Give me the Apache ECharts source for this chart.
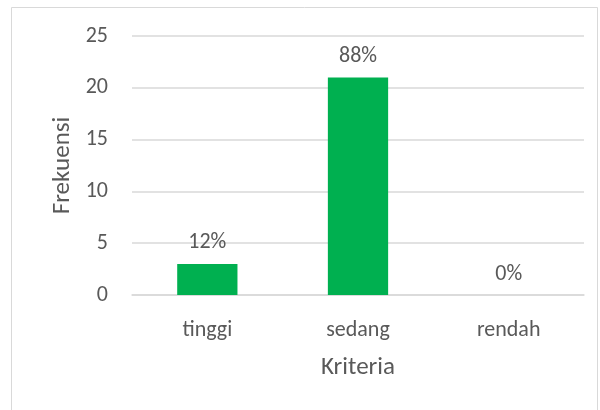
<!DOCTYPE html>
<html>
<head>
<meta charset="utf-8">
<script src="https://cdn.jsdelivr.net/npm/echarts@6/dist/echarts.min.js"></script>
<style>
    html, body { margin: 0; padding: 0; background: #fff; }
    #divChart { width: 600px; height: 410px; }
</style>
</head>
<body>
<div id="divChart"></div>
<script>
// data
var categories = ['tinggi', 'sedang', 'rendah'];
var frekuensi = [3, 21, 0];
var persen = ['12%', '88%', '0%'];
var yTicks = [0, 5, 10, 15, 20, 25];

var textColor = '#595959';
var gridColor = '#d9d9d9';
var fontFamily = 'Carlito, "Open Sans", "Noto Sans", sans-serif';

var myChart = echarts.init(document.getElementById('divChart'));

var option = {
    backgroundColor: '#fff',
    textStyle: { fontFamily: fontFamily },
    graphic: [{
        type: 'rect',
        shape: { x: 11.5, y: 7.5, width: 586, height: 410 },
        style: { fill: 'none', stroke: '#d9d9d9', lineWidth: 1 },
        silent: true
    }],
    grid: {
        left: 132,
        right: 16,
        top: 36,
        bottom: 115
    },
    xAxis: {
        type: 'category',
        data: categories,
        name: 'Kriteria',
        nameLocation: 'middle',
        nameGap: 60,
        nameTextStyle: { color: textColor, fontSize: 25, fontFamily: fontFamily },
        axisLine: { show: true, lineStyle: { color: gridColor, width: 1.5 } },
        axisTick: { show: false },
        axisLabel: { color: textColor, fontSize: 22, margin: 24, fontFamily: fontFamily }
    },
    yAxis: {
        type: 'value',
        min: yTicks[0],
        max: yTicks[yTicks.length - 1],
        interval: yTicks[1] - yTicks[0],
        name: 'Frekuensi',
        nameLocation: 'middle',
        nameGap: 57,
        nameRotate: 90,
        nameTextStyle: { color: textColor, fontSize: 25, fontFamily: fontFamily },
        axisLine: { show: false },
        axisTick: { show: false },
        axisLabel: { color: textColor, fontSize: 22, margin: 24, fontFamily: fontFamily },
        splitLine: { lineStyle: { color: gridColor, width: 1.5 } }
    },
    series: [{
        name: 'Frekuensi',
        type: 'bar',
        data: frekuensi,
        barWidth: '40%',
        itemStyle: { color: '#00b050' },
        label: {
            show: true,
            position: 'top',
            distance: 10,
            color: textColor,
            fontSize: 22,
            fontFamily: fontFamily,
            formatter: function (p) {
                return persen[p.dataIndex];
            }
        }
    }]
};
myChart.setOption(option);
</script>
</body>
</html>
